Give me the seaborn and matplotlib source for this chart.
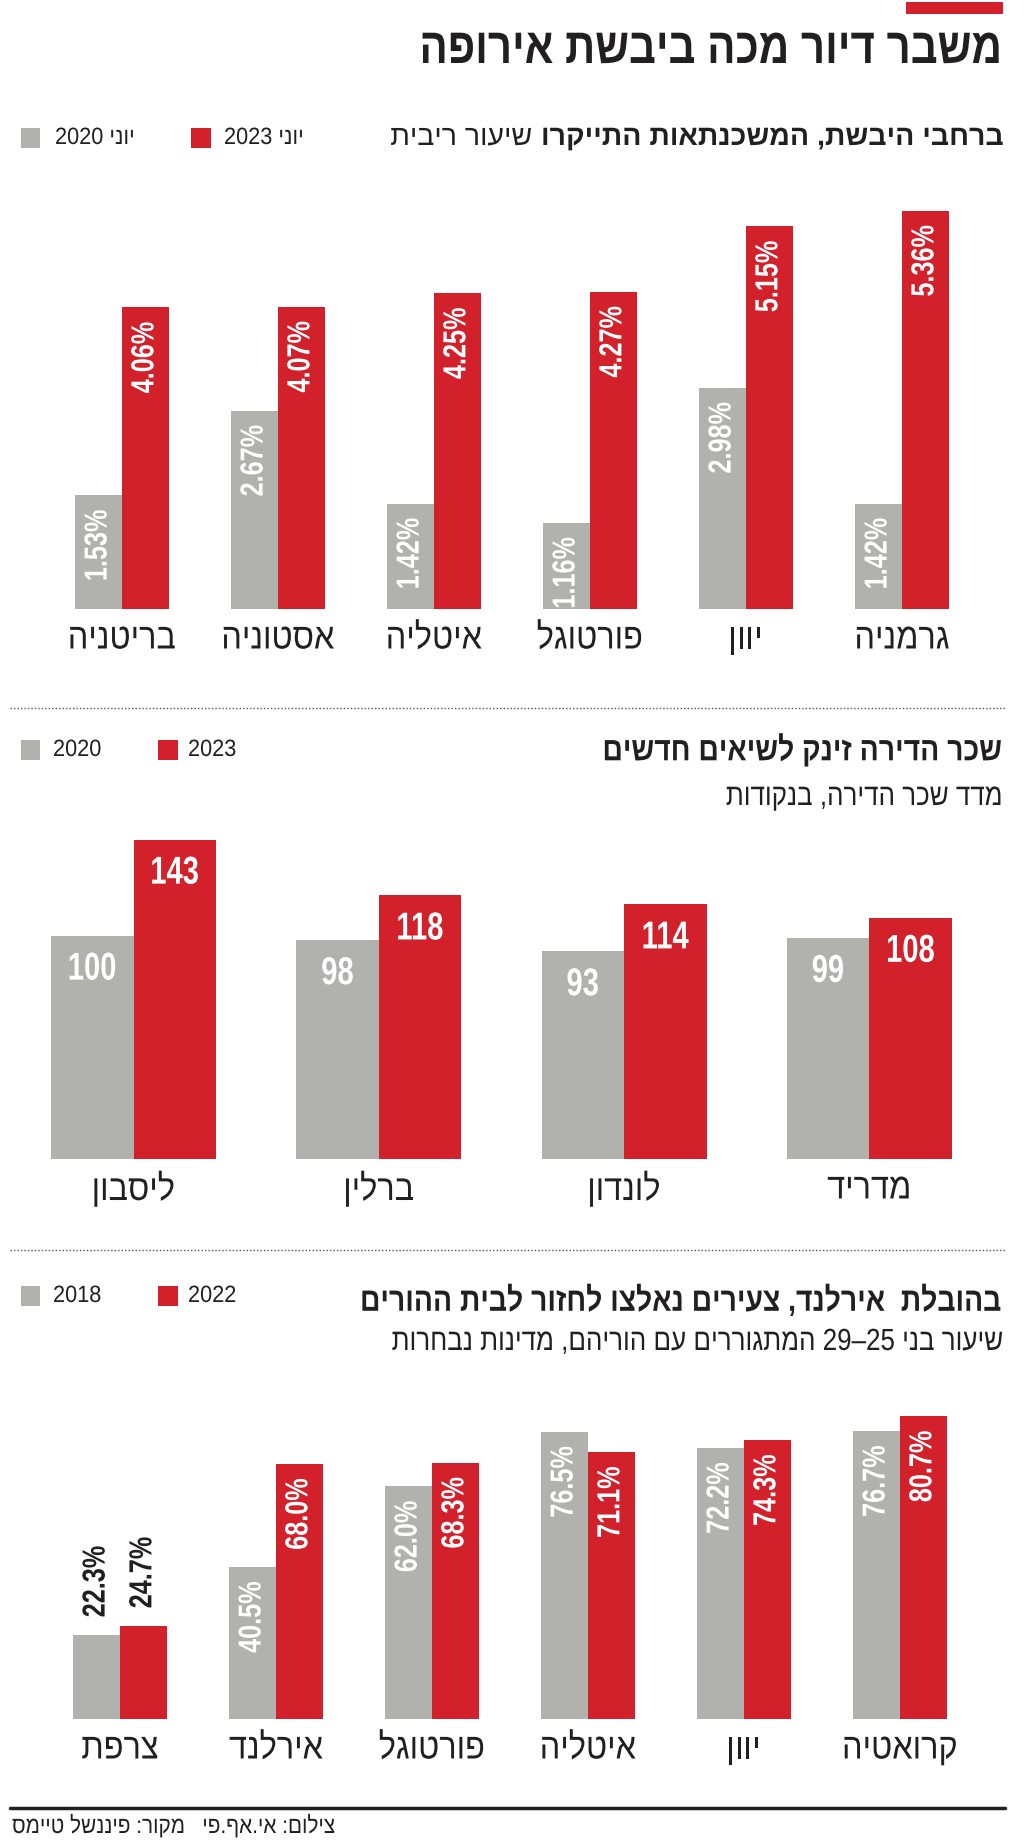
import re
import matplotlib
matplotlib.use('Agg')
import matplotlib.pyplot as plt
import seaborn as sns
import pandas as pd
from matplotlib.patches import Rectangle
from matplotlib.lines import Line2D
from matplotlib.patheffects import AbstractPathEffect
from matplotlib.transforms import Affine2D

W, H = 1024, 1845

# נתונים
mort_countries = ['בריטניה', 'אסטוניה', 'איטליה', 'פורטוגל', 'יוון', 'גרמניה']
mort_2020 = [1.53, 2.67, 1.42, 1.16, 2.98, 1.42]
mort_2023 = [4.06, 4.07, 4.25, 4.27, 5.15, 5.36]

rent_cities = ['ליסבון', 'ברלין', 'לונדון', 'מדריד']
rent_2020 = [100, 98, 93, 99]
rent_2023 = [143, 118, 114, 108]

young_countries = ['צרפת', 'אירלנד', 'פורטוגל', 'איטליה', 'יוון', 'קרואטיה']
young_2018 = [22.3, 40.5, 62.0, 76.5, 72.2, 76.7]
young_2022 = [24.7, 68.0, 68.3, 71.1, 74.3, 80.7]

RED = '#D2212B'
GRAY = '#B1B1AD'
INK = '#231F20'


def rtl(s):
    # matplotlib has no bidi: flip the string, keep number runs left-to-right
    r = s[::-1]
    return re.sub(r'[0-9][0-9.,%]*[0-9]|[0-9]', lambda m: m.group(0)[::-1], r)


class Squeeze(AbstractPathEffect):
    # squeeze glyphs along the writing direction to fake a condensed face
    def __init__(self, sx=0.85, anchor='center'):
        super().__init__()
        self.sx = sx
        self.anchor = anchor

    def draw_path(self, renderer, gc, tpath, affine, rgbFace=None):
        v = tpath.vertices
        x0 = 0
        if len(v):
            if self.anchor == 'right':
                x0 = v[:, 0].max()
            elif self.anchor == 'left':
                x0 = v[:, 0].min()
            else:
                x0 = (v[:, 0].min() + v[:, 0].max()) / 2
        t = Affine2D().translate(-x0, 0).scale(self.sx, 1).translate(x0, 0)
        renderer.draw_path(gc, tpath, t + affine, rgbFace)


def fx(x):
    return x / W


def fy(y):
    return 1 - y / H


sns.set_theme(style='white')
plt.rcParams['font.family'] = ['Liberation Sans', 'DejaVu Sans']

fig = plt.figure(figsize=(W / 100, H / 100), dpi=100)
fig.patch.set_facecolor('white')


def panel(box, cats, s1, s2, names, ymax, fmt, width, rotate, outside=(), lab_size=23):
    left, top, right, bottom = box
    ax = fig.add_axes([fx(left), fy(bottom), (right - left) / W, (bottom - top) / H])
    n = len(cats)
    df = pd.DataFrame({
        'cat': cats * 2,
        'year': [names[0]] * n + [names[1]] * n,
        'value': s1 + s2,
    })
    sns.barplot(data=df, x='cat', y='value', hue='year', order=cats, hue_order=names,
                palette=[GRAY, RED], saturation=1, width=width, linewidth=0,
                legend=False, ax=ax)
    for vals, cont in zip([s1, s2], ax.containers):
        for i, (bar, v) in enumerate(zip(cont, vals)):
            x = bar.get_x() + bar.get_width() / 2
            h = bar.get_height()
            txt = fmt.format(v)
            if rotate:
                if i in outside:
                    ax.annotate(txt, (x, h), xytext=(0, 18), textcoords='offset pixels',
                                rotation=90, ha='center', va='bottom', color=INK,
                                fontsize=lab_size, fontweight='bold',
                                path_effects=[Squeeze(0.79, 'left')])
                else:
                    ax.annotate(txt, (x, h), xytext=(0, -14), textcoords='offset pixels',
                                rotation=90, ha='center', va='top', color='white',
                                fontsize=lab_size, fontweight='bold',
                                path_effects=[Squeeze(0.79, 'right')])
            else:
                ax.annotate(txt, (x, h), xytext=(0, -34), textcoords='offset pixels',
                            ha='center', va='center', color='white',
                            fontsize=lab_size, fontweight='bold',
                            path_effects=[Squeeze(0.75, 'center')])
    ax.set_xlim(-0.5, n - 0.5)
    ax.set_ylim(0, ymax)
    ax.set_xticks(range(n))
    ax.set_xticklabels([rtl(c) for c in cats], fontsize=26, color=INK)
    for lbl in ax.get_xticklabels():
        lbl.set_path_effects([Squeeze(0.9, 'center')])
    ax.tick_params(axis='x', length=0, pad=9)
    ax.set_yticks([])
    ax.set_xlabel('')
    ax.set_ylabel('')
    sns.despine(ax=ax, left=True, bottom=True)
    ax.set_facecolor('none')
    return ax


def legend(items, y):
    for (x0, x1, tx, color, label) in items:
        fig.add_artist(Rectangle((fx(x0), fy(y + 10)), (x1 - x0) / W, 20 / H,
                                 transform=fig.transFigure, color=color, lw=0))
        fig.text(fx(tx), fy(y), rtl(label), ha='left', va='center', fontsize=17, color=INK,
                 path_effects=[Squeeze(0.92, 'left')])


def head(y, s, size, bold=True, sx=0.85, x=1003):
    return fig.text(fx(x), fy(y), rtl(s), ha='right', va='center', fontsize=size,
                    fontweight='bold' if bold else 'normal', color=INK,
                    path_effects=[Squeeze(sx, 'right')])


# כותרת עליונה
fig.add_artist(Rectangle((fx(906), fy(14)), 97 / W, 12 / H, transform=fig.transFigure,
                         color=RED, lw=0))
head(50, 'משבר דיור מכה ביבשת אירופה', 36, sx=0.84)

# פאנל 1: חלק מודגש וחלק רגיל באותה שורה
t1 = head(138, 'ברחבי היבשת, המשכנתאות התייקרו', 20.5, sx=1.0)
renderer = fig.canvas.get_renderer()
bw = t1.get_window_extent(renderer).width
head(138, 'שיעור ריבית', 20.5, bold=False, sx=1.0, x=1003 - bw - 9)
legend([(21, 40, 55, GRAY, 'יוני 2020'), (191, 211, 224, RED, 'יוני 2023')], 138)

panel((44, 193, 980, 609), mort_countries, mort_2020, mort_2023, ['2020', '2023'],
      5.6, '{:.2f}%', 0.6, True)

fig.add_artist(Line2D([fx(10), fx(1005)], [fy(708), fy(708)], transform=fig.transFigure,
                      color='#555555', lw=1, ls=(0, (1, 1.5))))

# פאנל 2
head(751, 'שכר הדירה זינק לשיאים חדשים', 24)
head(797, 'מדד שכר הדירה, בנקודות', 22, bold=False)
legend([(21, 40, 53, GRAY, '2020'), (158, 178, 188, RED, '2023')], 750)

panel((11, 824, 992, 1159), rent_cities, rent_2020, rent_2023, ['2020', '2023'],
      150, '{:d}', 0.673, False, lab_size=28)

fig.add_artist(Line2D([fx(10), fx(1005)], [fy(1250), fy(1250)], transform=fig.transFigure,
                      color='#555555', lw=1, ls=(0, (1, 1.5))))

# פאנל 3
head(1302, 'בהובלת  אירלנד, צעירים נאלצו לחזור לבית ההורים', 24)
head(1342, 'שיעור בני 25–29 המתגוררים עם הוריהם, מדינות נבחרות', 22, bold=False)
legend([(21, 40, 53, GRAY, '2018'), (158, 178, 188, RED, '2022')], 1296)

panel((42, 1400, 978, 1719), young_countries, young_2018, young_2022, ['2018', '2022'],
      85, '{:.1f}%', 0.6, True, outside=(0,))

# שורת מקור
fig.add_artist(Line2D([fx(10), fx(1005)], [fy(1808), fy(1808)], transform=fig.transFigure,
                      color=INK, lw=2.5))
fig.text(fx(12), fy(1826), rtl('צילום: אי.אף.פי   מקור: פיננשל טיימס'), ha='left',
         va='center', fontsize=17, color=INK, path_effects=[Squeeze(0.88, 'left')])

fig.savefig('out.png', dpi=100, facecolor='white')
